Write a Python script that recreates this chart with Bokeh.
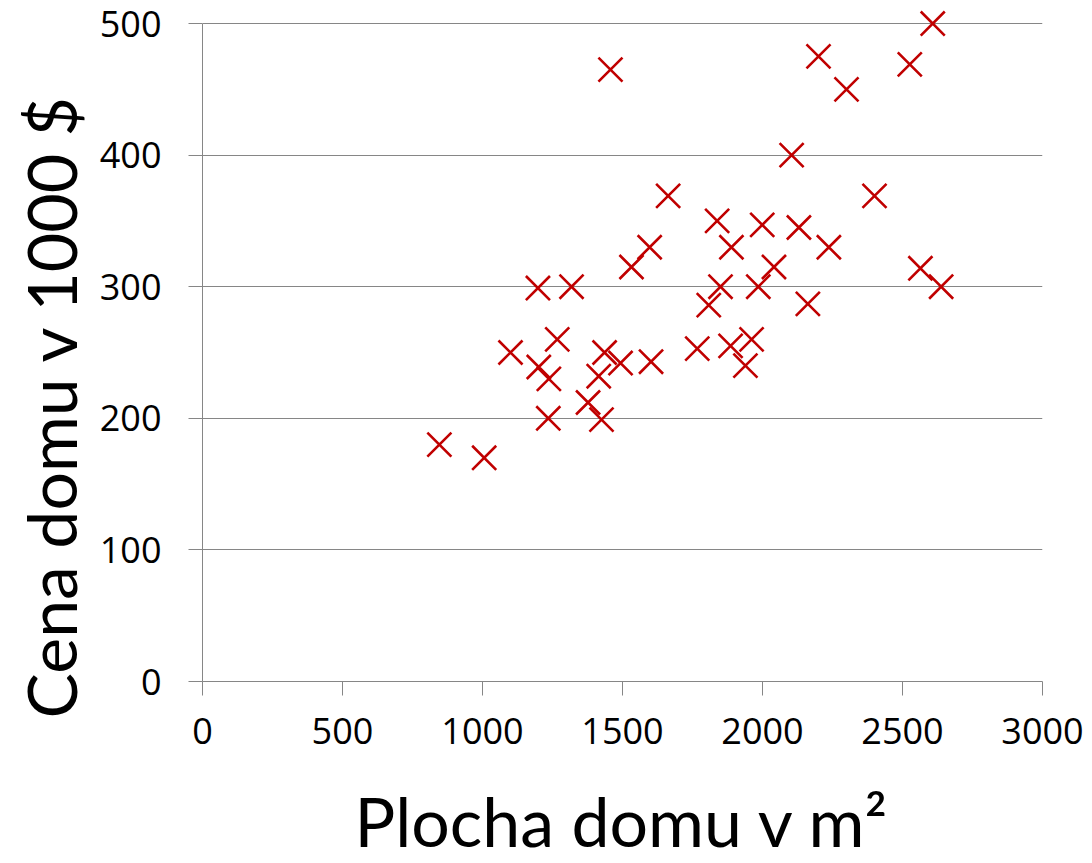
from bokeh.plotting import figure
from bokeh.models import Range1d, FixedTicker, Title
from bokeh.embed import file_html
from bokeh.resources import INLINE

plocha = [846, 1006, 1100, 1198, 1201, 1237, 1235, 1267, 1318, 1377, 1415, 1425,
          1436, 1457, 1493, 1532, 1597, 1602, 1663, 1767, 1808, 1838, 1850, 1889,
          1886, 1961, 1939, 1985, 1999, 2041, 2104, 2130, 2162, 2200, 2237, 2300,
          2400, 2526, 2564, 2608, 2638]
cena = [180, 170, 250, 299, 239, 230, 200, 260, 300, 212, 232, 199,
        250, 465, 242, 315, 330, 243, 369, 253, 286, 350, 300, 330,
        255, 260, 240, 300, 347, 315, 400, 345, 287, 475, 330, 450,
        369, 469, 314, 500, 300]

x_ticks = [0, 500, 1000, 1500, 2000, 2500, 3000]
y_ticks = [0, 100, 200, 300, 400, 500]

TICK_FONT = "Open Sans"
TITLE_FONT = "Lato"
GRAY = "#868686"

p = figure(width=1092, height=863, output_backend="svg", toolbar_location=None,
           x_range=Range1d(0, 3000), y_range=Range1d(0, 517.5),
           min_border_left=202, min_border_right=50, min_border_top=0,
           min_border_bottom=182)
p.outline_line_color = None
p.background_fill_color = "white"
p.border_fill_color = "white"

p.xgrid.visible = False
p.ygrid.ticker = FixedTicker(ticks=y_ticks)
p.ygrid.grid_line_color = GRAY
p.ygrid.grid_line_width = 1

p.xaxis.ticker = FixedTicker(ticks=x_ticks)
p.yaxis.ticker = FixedTicker(ticks=y_ticks)
p.yaxis.bounds = (0, 500)
for ax in (p.xaxis, p.yaxis):
    ax.axis_line_color = GRAY
    ax.major_tick_line_color = GRAY
    ax.major_tick_out = 14
    ax.major_tick_in = 0
    ax.minor_tick_line_color = None
    ax.major_label_text_font = TICK_FONT
    ax.major_label_text_font_size = "36px"
    ax.major_label_text_color = "black"
    ax.axis_label_text_font = TITLE_FONT
    ax.axis_label_text_font_size = "68px"
    ax.axis_label_text_font_style = "normal"
    ax.axis_label_text_color = "black"

p.xaxis.major_label_standoff = 22
p.yaxis.major_label_standoff = 27
p.xaxis.axis_label = "Plocha domu v m²"
p.xaxis.axis_label_standoff = 33

ytitle = Title(text="Cena domu v 1000 $", align="left", offset=-37,
               text_font=TITLE_FONT, text_font_size="68px",
               text_font_style="normal", text_color="black", standoff=12)
p.add_layout(ytitle, "left")

p.scatter(plocha, cena, marker="x", size=34, line_width=2.6, line_color="#C00000")

open("out.html", "w").write(file_html(p, INLINE))
